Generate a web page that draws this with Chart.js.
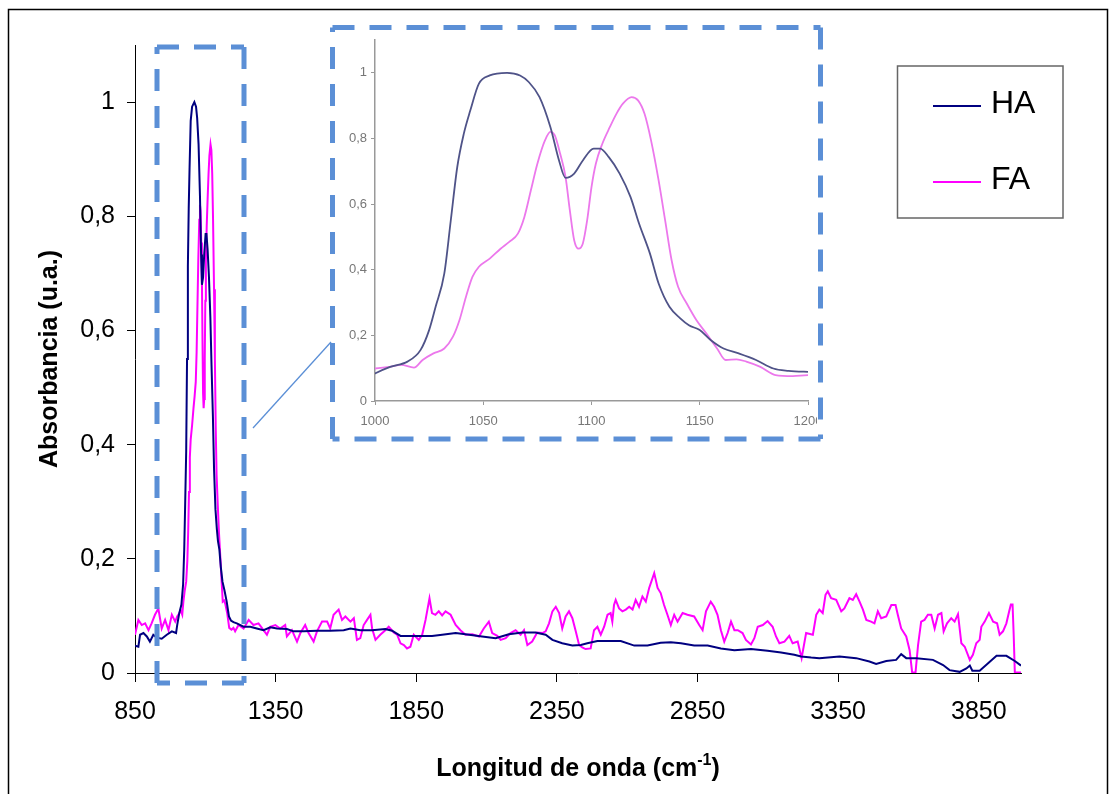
<!DOCTYPE html>
<html>
<head>
<meta charset="utf-8">
<script src="https://cdn.jsdelivr.net/npm/chart.js@4.4.1/dist/chart.umd.min.js"></script>
<style>
  html, body { margin: 0; padding: 0; background: #fff; }
  #wrap { position: relative; width: 1115px; height: 794px; overflow: hidden; }
  #main { position: absolute; left: 0; top: 0; }
  #zoom { position: absolute; left: 336px; top: 31px; filter: blur(0.6px); }
</style>
</head>
<body>
<div id="wrap">
  <canvas id="main" width="1115" height="794"></canvas>
  <canvas id="zoom" width="481" height="405"></canvas>
</div>
<script>
// series names
var seriesNames = ['HA', 'FA'];

// HA spectrum (wavenumber cm-1, absorbance)
var haWave = [850, 862, 868, 880, 892, 903, 915, 927, 945, 963, 981, 996,
  1000, 1007, 1015, 1021, 1025, 1028, 1032, 1035, 1038, 1041, 1044, 1048, 1053, 1061, 1067, 1071, 1076, 1081,
  1085, 1088, 1092, 1096, 1101, 1104, 1108, 1113, 1118, 1122, 1127, 1131, 1136, 1141, 1145, 1150, 1155, 1161,
  1168, 1176, 1184, 1191, 1200,
  1212, 1236, 1260, 1283, 1307, 1331, 1355, 1390, 1414, 1450, 1497, 1544, 1592, 1616, 1651, 1693, 1740, 1764,
  1794, 1847, 1906, 1942, 1990, 2025, 2084, 2132, 2179, 2227, 2274, 2310, 2334, 2369, 2405, 2435, 2458, 2494,
  2577, 2625, 2672, 2719, 2755, 2791, 2838, 2886, 2933, 2981, 3040, 3099, 3147, 3194, 3218, 3254, 3283, 3355,
  3414, 3461, 3485, 3521, 3556, 3574, 3592, 3628, 3687, 3723, 3746, 3782, 3806, 3818, 3827, 3853, 3883, 3913,
  3948, 3978, 4000];
var haAbs = [0.048, 0.046, 0.067, 0.070, 0.064, 0.055, 0.067, 0.062, 0.060, 0.067, 0.073, 0.070,
  0.084, 0.104, 0.120, 0.155, 0.216, 0.287, 0.388, 0.550, 0.713, 0.814, 0.885, 0.967, 0.992, 1.000, 0.992, 0.972, 0.926, 0.835,
  0.733, 0.680, 0.693, 0.733, 0.769, 0.769, 0.743, 0.693, 0.622, 0.540, 0.449, 0.358, 0.287, 0.252, 0.231, 0.216, 0.186, 0.160,
  0.145, 0.125, 0.099, 0.092, 0.089,
  0.087, 0.081, 0.081, 0.078, 0.075, 0.080, 0.078, 0.077, 0.073, 0.073, 0.074, 0.074, 0.075, 0.078, 0.075, 0.075, 0.077, 0.074,
  0.065, 0.065, 0.065, 0.067, 0.070, 0.068, 0.064, 0.061, 0.068, 0.071, 0.071, 0.067, 0.058, 0.052, 0.048, 0.049, 0.052, 0.056,
  0.056, 0.048, 0.048, 0.053, 0.054, 0.052, 0.048, 0.048, 0.043, 0.040, 0.042, 0.039, 0.036, 0.032, 0.029, 0.027, 0.026, 0.029,
  0.026, 0.020, 0.016, 0.021, 0.023, 0.033, 0.026, 0.026, 0.023, 0.014, 0.005, 0.002, 0.008, 0.013, 0.004, 0.004, 0.017, 0.030,
  0.030, 0.021, 0.013];

// FA spectrum
var faWave = [850, 862, 874, 886, 898, 909, 921, 933, 945, 957, 969, 981, 993,
  1000, 1007, 1012, 1018, 1022, 1027, 1032, 1036, 1039, 1042, 1045, 1048, 1053, 1058, 1062, 1066, 1069, 1072,
  1075, 1078.5, 1081, 1083, 1085.5, 1088, 1090, 1092, 1094, 1096, 1098, 1100, 1102, 1105, 1108.5, 1111.5, 1114.5,
  1118.5, 1121.5, 1124.5, 1127.5, 1131, 1134, 1137, 1140, 1144, 1148.5, 1153, 1158, 1162, 1167, 1171.5, 1178,
  1185, 1193, 1200,
  1206, 1218, 1236, 1254, 1271, 1289, 1307, 1319, 1331, 1349, 1366, 1384, 1390, 1408, 1426, 1438, 1455, 1467,
  1485, 1497, 1515, 1533, 1544, 1556, 1574, 1586, 1598, 1616, 1628, 1639, 1651, 1663, 1675, 1687, 1693, 1705,
  1722, 1740, 1752, 1770, 1782, 1794, 1806, 1817, 1829, 1841, 1859, 1871, 1883, 1897, 1906, 1918, 1930, 1942,
  1954, 1972, 1990, 2007, 2025, 2049, 2073, 2090, 2108, 2120, 2138, 2150, 2168, 2185, 2203, 2221, 2233, 2245,
  2262, 2280, 2298, 2310, 2322, 2334, 2346, 2358, 2369, 2381, 2393, 2405, 2417, 2429, 2440, 2452, 2470, 2482,
  2494, 2506, 2518, 2530, 2541, 2547, 2553, 2559, 2571, 2583, 2595, 2607, 2619, 2630, 2642, 2654, 2666, 2678,
  2696, 2708, 2719, 2731, 2743, 2755, 2767, 2779, 2797, 2814, 2838, 2856, 2868, 2880, 2897, 2909, 2921, 2933,
  2945, 2957, 2969, 2981, 2993, 3010, 3022, 3040, 3052, 3064, 3082, 3099, 3117, 3129, 3141, 3159, 3176, 3188,
  3206, 3220, 3236, 3260, 3272, 3283, 3295, 3305, 3313, 3325, 3343, 3361, 3372, 3390, 3402, 3414, 3426, 3438,
  3450, 3467, 3479, 3491, 3503, 3521, 3539, 3554, 3562, 3574, 3592, 3604, 3613, 3625, 3634, 3645, 3657, 3669,
  3681, 3693, 3705, 3717, 3725, 3737, 3752, 3764, 3776, 3788, 3800, 3818, 3829, 3841, 3853, 3859, 3871, 3886,
  3901, 3915, 3924, 3936, 3948, 3958, 3964, 3970, 3974, 3978, 4000];
var faAbs = [0.067, 0.093, 0.084, 0.087, 0.075, 0.087, 0.102, 0.113, 0.078, 0.093, 0.075, 0.102, 0.090,
  0.099, 0.104, 0.110, 0.102, 0.125, 0.145, 0.160, 0.196, 0.246, 0.317, 0.378, 0.409, 0.434, 0.464, 0.485, 0.510, 0.561, 0.642,
  0.723, 0.794, 0.820, 0.810, 0.754, 0.683, 0.581, 0.490, 0.464, 0.480, 0.551, 0.652, 0.723, 0.784, 0.835, 0.875, 0.906,
  0.926, 0.916, 0.875, 0.794, 0.672, 0.551, 0.429, 0.348, 0.297, 0.246, 0.206, 0.160, 0.125, 0.127, 0.120, 0.104,
  0.079, 0.076, 0.079,
  0.073, 0.084, 0.078, 0.093, 0.084, 0.087, 0.075, 0.067, 0.081, 0.084, 0.078, 0.084, 0.064, 0.075, 0.055, 0.070, 0.084, 0.070,
  0.055, 0.073, 0.090, 0.090, 0.078, 0.102, 0.111, 0.093, 0.099, 0.090, 0.096, 0.058, 0.061, 0.084, 0.093, 0.102, 0.078, 0.058,
  0.067, 0.075, 0.081, 0.071, 0.067, 0.052, 0.049, 0.043, 0.046, 0.067, 0.058, 0.067, 0.093, 0.131, 0.105, 0.102, 0.108, 0.101,
  0.108, 0.102, 0.084, 0.075, 0.067, 0.068, 0.064, 0.078, 0.090, 0.070, 0.065, 0.058, 0.061, 0.070, 0.075, 0.067, 0.075, 0.049,
  0.055, 0.071, 0.070, 0.073, 0.087, 0.108, 0.116, 0.105, 0.078, 0.099, 0.108, 0.096, 0.073, 0.049, 0.045, 0.042, 0.043, 0.075,
  0.081, 0.067, 0.081, 0.102, 0.105, 0.090, 0.119, 0.128, 0.113, 0.108, 0.111, 0.116, 0.111, 0.128, 0.116, 0.134, 0.125, 0.149,
  0.175, 0.149, 0.140, 0.119, 0.102, 0.084, 0.102, 0.090, 0.105, 0.102, 0.099, 0.084, 0.075, 0.108, 0.125, 0.116, 0.102, 0.075,
  0.055, 0.070, 0.090, 0.075, 0.075, 0.070, 0.058, 0.050, 0.061, 0.081, 0.084, 0.091, 0.081, 0.064, 0.052, 0.055, 0.065, 0.052,
  0.055, 0.026, 0.070, 0.067, 0.102, 0.111, 0.105, 0.137, 0.143, 0.131, 0.128, 0.108, 0.113, 0.131, 0.128, 0.138, 0.125, 0.111,
  0.093, 0.090, 0.087, 0.108, 0.096, 0.099, 0.119, 0.119, 0.102, 0.078, 0.064, 0.040, 0.001, 0.001, 0.049, 0.090, 0.093, 0.102,
  0.102, 0.078, 0.102, 0.105, 0.073, 0.087, 0.096, 0.090, 0.103, 0.052, 0.046, 0.023, 0.032, 0.052, 0.058, 0.081, 0.090, 0.105,
  0.090, 0.087, 0.067, 0.073, 0.087, 0.108, 0.120, 0.120, 0.067, 0.001, 0.001];

// tick labels
var xTicks = [850, 1350, 1850, 2350, 2850, 3350, 3850];
var yTicks = [0, 0.2, 0.4, 0.6, 0.8, 1];
var zoomXTicks = [1000, 1050, 1100, 1150, 1200];

var FONT = "'Liberation Sans', Arial, sans-serif";

function pts(xs, ys) {
  return xs.map(function (x, i) { return { x: x, y: ys[i] }; });
}
function comma(v) { return String(v).replace('.', ','); }
function plain(v) { return String(v); }
function setTicks(list) {
  return function (s) { s.ticks = list.map(function (v) { return { value: v }; }); };
}

// dashed box drawn side by side so each side starts at a corner
function dashedBox(ctx, x, y, w, h) {
  var c = [[x, y], [x + w, y], [x + w, y + h], [x, y + h]];
  for (var i = 0; i < 4; i++) {
    var p = c[i], q = c[(i + 1) % 4];
    ctx.beginPath();
    ctx.moveTo(p[0], p[1]);
    ctx.lineTo(q[0], q[1]);
    ctx.stroke();
  }
}

// dashed boxes, connector, legend, x title, frame
var decor = {
  id: 'decor',
  afterDraw: function (chart) {
    var ctx = chart.ctx;
    ctx.save();
    ctx.strokeStyle = '#5b8fd6';
    ctx.lineWidth = 5;
    ctx.setLineDash([22, 15]);
    dashedBox(ctx, 157, 47, 87, 636);
    dashedBox(ctx, 332.5, 27.5, 488, 411.5);
    ctx.setLineDash([]);
    ctx.lineWidth = 1.3;
    ctx.beginPath();
    ctx.moveTo(253, 428);
    ctx.lineTo(331, 342);
    ctx.stroke();

    // legend
    ctx.strokeStyle = '#666';
    ctx.lineWidth = 1.5;
    ctx.strokeRect(897.5, 66, 165.5, 152);
    ctx.font = '32px ' + FONT;
    ctx.textBaseline = 'middle';
    ctx.textAlign = 'left';
    chart.data.datasets.forEach(function (ds, i) {
      var y = 106 + i * 76;
      ctx.strokeStyle = ds.borderColor;
      ctx.lineWidth = 2;
      ctx.beginPath();
      ctx.moveTo(933, y);
      ctx.lineTo(981, y);
      ctx.stroke();
      ctx.fillStyle = '#000';
      ctx.fillText(ds.label, 991, y - 2);
    });

    // x axis title with superscript
    var a = 'Longitud de onda (cm', sup = '-1', b = ')';
    ctx.fillStyle = '#000';
    ctx.textBaseline = 'alphabetic';
    ctx.font = 'bold 25px ' + FONT;
    var wa = ctx.measureText(a).width, wb = ctx.measureText(b).width;
    ctx.font = 'bold 16px ' + FONT;
    var ws = ctx.measureText(sup).width;
    var x0 = (chart.chartArea.left + chart.chartArea.right) / 2 - (wa + ws + wb) / 2;
    var base = 776;
    ctx.font = 'bold 25px ' + FONT;
    ctx.fillText(a, x0, base);
    ctx.font = 'bold 16px ' + FONT;
    ctx.fillText(sup, x0 + wa, base - 11);
    ctx.font = 'bold 25px ' + FONT;
    ctx.fillText(b, x0 + wa + ws, base);

    // outer frame
    ctx.strokeStyle = '#000';
    ctx.lineWidth = 1.5;
    ctx.strokeRect(8.5, 9.5, 1099, 800);
    ctx.restore();
  }
};

new Chart(document.getElementById('main'), {
  type: 'scatter',
  data: {
    datasets: [
      { label: seriesNames[0], data: pts(haWave, haAbs), borderColor: '#000080', backgroundColor: '#000080',
        showLine: true, borderWidth: 2, pointRadius: 0, tension: 0 },
      { label: seriesNames[1], data: pts(faWave, faAbs), borderColor: '#ff00ff', backgroundColor: '#ff00ff',
        showLine: true, borderWidth: 2, pointRadius: 0, tension: 0 }
    ]
  },
  options: {
    responsive: false,
    animation: false,
    events: [],
    layout: { padding: { left: 0, top: 45, right: 94, bottom: 0 } },
    plugins: { legend: { display: false }, tooltip: { enabled: false } },
    scales: {
      x: {
        type: 'linear', min: 850, max: 4000,
        afterBuildTicks: setTicks(xTicks),
        afterFit: function (s) { s.height = 121; s.paddingLeft = 0; s.paddingRight = 0; },
        grid: { drawOnChartArea: false, drawTicks: true, tickLength: 9, color: '#000', lineWidth: 1 },
        border: { display: true, color: '#000', width: 1 },
        ticks: { color: '#000', font: { family: FONT, size: 25 }, padding: 15, maxRotation: 0, autoSkip: false,
          callback: plain }
      },
      y: {
        type: 'linear', min: 0, max: 1.1,
        afterBuildTicks: setTicks(yTicks),
        afterFit: function (s) { s.width = 135; s.paddingTop = 0; s.paddingBottom = 0; },
        grid: { drawOnChartArea: false, drawTicks: true, tickLength: 8, color: '#000', lineWidth: 1 },
        border: { display: true, color: '#000', width: 1 },
        ticks: { color: '#000', font: { family: FONT, size: 25 }, padding: 12, callback: comma },
        title: { display: true, text: 'Absorbancia (u.a.)', color: '#000',
          font: { family: FONT, size: 25, weight: 'bold' }, padding: { top: 35, bottom: 0 } }
      }
    }
  },
  plugins: [decor]
});

// inset: zoom of the 1000-1200 cm-1 band
new Chart(document.getElementById('zoom'), {
  type: 'scatter',
  data: {
    datasets: [
      { label: seriesNames[0], data: pts(haWave, haAbs), borderColor: '#4f5388', showLine: true,
        borderWidth: 1.8, pointRadius: 0, cubicInterpolationMode: 'monotone' },
      { label: seriesNames[1], data: pts(faWave, faAbs), borderColor: '#ec78ec', showLine: true,
        borderWidth: 1.8, pointRadius: 0, cubicInterpolationMode: 'monotone' }
    ]
  },
  options: {
    responsive: false,
    animation: false,
    events: [],
    layout: { padding: { left: 0, top: 9, right: 9, bottom: 0 } },
    plugins: { legend: { display: false }, tooltip: { enabled: false } },
    scales: {
      x: {
        type: 'linear', min: 1000, max: 1200,
        afterBuildTicks: setTicks(zoomXTicks),
        afterFit: function (s) { s.height = 35; s.paddingLeft = 0; s.paddingRight = 0; },
        grid: { drawOnChartArea: false, tickLength: 4, color: '#999' },
        border: { display: true, color: '#999', width: 1.5 },
        ticks: { color: '#777', font: { family: FONT, size: 13 }, padding: 9, maxRotation: 0, autoSkip: false,
          callback: plain }
      },
      y: {
        type: 'linear', min: 0, max: 1.1,
        afterBuildTicks: setTicks(yTicks),
        afterFit: function (s) { s.width = 39; s.paddingTop = 0; s.paddingBottom = 0; },
        grid: { drawOnChartArea: false, tickLength: 4, color: '#999' },
        border: { display: true, color: '#999', width: 1.5 },
        ticks: { color: '#777', font: { family: FONT, size: 13 }, padding: 4, callback: comma }
      }
    }
  }
});
</script>
</body>
</html>
